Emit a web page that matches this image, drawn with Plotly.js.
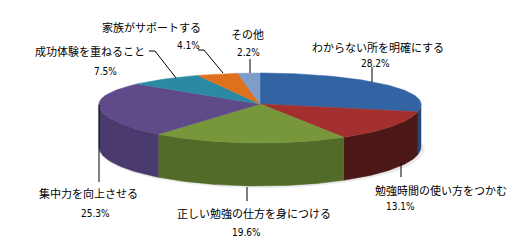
<!DOCTYPE html>
<html><head><meta charset="utf-8">
<script src="https://cdn.plot.ly/plotly-3.0.1.min.js"></script>
<style>html,body{margin:0;padding:0;background:#fff;}#chart{width:524px;height:249px;}</style>
</head><body><div id="chart"></div>
<script>
// ---- data ----
const categories = ['わからない所を明確にする','勉強時間の使い方をつかむ','正しい勉強の仕方を身につける','集中力を向上させる','成功体験を重ねること','家族がサポートする','その他'];
const values = [28.2, 13.1, 19.6, 25.3, 7.5, 4.1, 2.2];
const pctLabels = ['28.2%','13.1%','19.6%','25.3%','7.5%','4.1%','2.2%'];

// ---- styles ----
const topColors  = ['#3264a4','#a3302f','#77973a','#5f4a8a','#2b8aa3','#de711d','#7f9dcb'];
const sideColors = ['#24497a','#4b1717','#526b28','#4b3a6e','#1f6678','#a4531a','#5d7496'];

// ---- geometry (layout, pixel units) ----
const G = {cx:260, cy:104, rx:161, ryBack:31, ryFront:39, depth:43};
function pt(th, dy){
  const s = Math.sin(th);
  const ry = s > 0 ? G.ryBack : G.ryFront;
  return [G.cx + G.rx*Math.cos(th), G.cy - ry*s + (dy||0)];
}
function arc(a, b, dy){
  const n = Math.max(2, Math.ceil(Math.abs(a-b)/0.02));
  const out = [];
  for(let i=0;i<=n;i++){ out.push(pt(a + (b-a)*i/n, dy)); }
  return out;
}

const total = values.reduce((s,v)=>s+v,0);
const traces = [];

// soft shadow under the pie
(function(){
  const xs=[], ys=[];
  for(let i=0;i<=120;i++){
    const th = 2*Math.PI*i/120;
    const p = pt(th, G.depth+1);
    xs.push(G.cx + (p[0]-G.cx)*1.01 + 2); ys.push(p[1] + 1);
  }
  traces.push({type:'scatter',mode:'lines',x:xs,y:ys,fill:'toself',fillcolor:'#ececec',line:{width:0},hoverinfo:'skip'});
})();

const angles = [];
let cum = 0;
values.forEach(v=>{
  const a = Math.PI/2 - 2*Math.PI*cum/total;
  cum += v;
  const b = Math.PI/2 - 2*Math.PI*cum/total;
  angles.push([a,b]);
});

// side walls (front half only)
angles.forEach(([a,b],i)=>{
  for(let k=-2;k<=1;k++){
    const lo = -Math.PI + 2*Math.PI*k, hi = 2*Math.PI*k;
    const s = Math.max(b, lo), e = Math.min(a, hi);
    if(e - s > 1e-6){
      const top = arc(e, s, 0);
      const bot = arc(s, e, G.depth);
      const pts = top.concat(bot);
      pts.push(top[0]);
      traces.push({type:'scatter',mode:'lines',x:pts.map(p=>p[0]),y:pts.map(p=>p[1]),
        fill:'toself',fillcolor:sideColors[i],line:{width:0.5,color:sideColors[i]},hoverinfo:'skip'});
    }
  }
});

// top faces
angles.forEach(([a,b],i)=>{
  const pts = [[G.cx,G.cy]].concat(arc(a,b,0));
  pts.push([G.cx,G.cy]);
  traces.push({type:'scatter',mode:'lines',x:pts.map(p=>p[0]),y:pts.map(p=>p[1]),
    fill:'toself',fillcolor:topColors[i],line:{width:0.5,color:topColors[i]},hoverinfo:'skip',name:categories[i]});
});

// label placement (layout)
const catPos = [[378,47],[441,190],[254,213],[88,193],[90,51],[151,27],[247,34]];
const pctPos = [[375,63],[400,206],[246,232],[95,213],[105,71],[188,45],[248,52]];
const leaders = [
  'M372,67 L372,82',
  'M401,163 L401,177',
  'M247,187 L247,201',
  'M99,105 L99,182',
  'M149,51 L155,51 L176,78',
  'M198,50 L204,50 L223,73',
  'M250,59 L250,73'
];

const annotations = [];
categories.forEach((c,i)=>{
  annotations.push({x:catPos[i][0],y:catPos[i][1],xref:'x',yref:'y',text:c,showarrow:false,
    xanchor:'center',yanchor:'middle',font:{family:'"Noto Sans CJK JP", sans-serif',size:11,color:'#000'}});
  annotations.push({x:pctPos[i][0],y:pctPos[i][1],xref:'x',yref:'y',text:pctLabels[i],showarrow:false,
    xanchor:'center',yanchor:'middle',font:{family:'"Liberation Sans Narrow","DejaVu Sans Condensed",sans-serif',size:10,color:'#000'}});
});
const shapes = leaders.map(p=>({type:'path',path:p,xref:'x',yref:'y',line:{color:'#000',width:1}}));

const layout = {
  width:524,height:249,margin:{l:0,r:0,t:0,b:0},
  paper_bgcolor:'#fff',plot_bgcolor:'#fff',showlegend:false,
  xaxis:{range:[0,524],visible:false,fixedrange:true},
  yaxis:{range:[249,0],visible:false,fixedrange:true},
  annotations:annotations,shapes:shapes
};
Plotly.newPlot('chart',traces,layout,{staticPlot:true,displayModeBar:false});
</script>
</body></html>
